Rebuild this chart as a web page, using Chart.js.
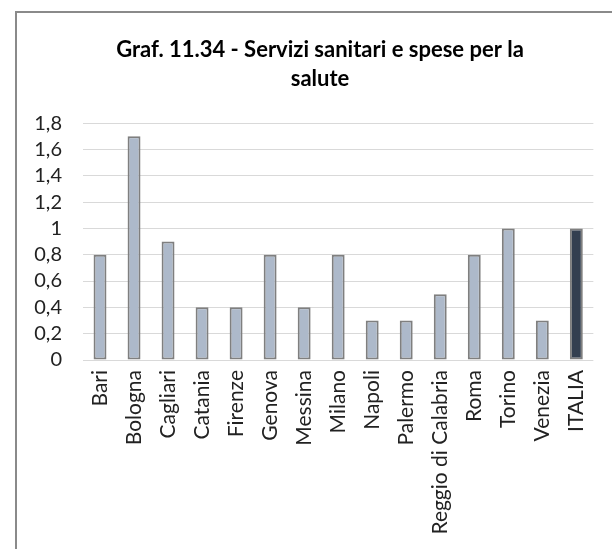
<!DOCTYPE html>
<html>
<head>
<meta charset="utf-8">
<script src="https://cdn.jsdelivr.net/npm/chart.js@4.4.1/dist/chart.umd.min.js"></script>
<style>
  html, body { margin: 0; padding: 0; background: #fff; }
  #wrap { position: relative; width: 612px; height: 549px; overflow: hidden; }
  #frame { position: absolute; left: 15px; top: 11px; width: 700px; height: 700px;
           border-left: 2px solid #8a8a8a; border-top: 2px solid #8a8a8a; box-sizing: border-box; }
  canvas { position: absolute; left: 0; top: 0; }
</style>
</head>
<body>
<div id="wrap">
  <div id="frame"></div>
  <canvas id="c" width="612" height="549"></canvas>
</div>
<script>
const titleLines = ['Graf. 11.34 - Servizi sanitari e spese per la', 'salute'];
const categories = ['Bari', 'Bologna', 'Cagliari', 'Catania', 'Firenze', 'Genova', 'Messina', 'Milano', 'Napoli', 'Palermo', 'Reggio di Calabria', 'Roma', 'Torino', 'Venezia', 'ITALIA'];
const values = [0.8, 1.7, 0.9, 0.4, 0.4, 0.8, 0.4, 0.8, 0.3, 0.3, 0.5, 0.8, 1.0, 0.3, 1.0];
const yTicks = [0, 0.2, 0.4, 0.6, 0.8, 1, 1.2, 1.4, 1.6, 1.8];

const cityColor = '#adb9ca';
const totalColor = '#333f50';
const fills = categories.map(c => c === 'ITALIA' ? totalColor : cityColor);

// shift the title block so it is centred on the (partly cropped) chart frame
const titleShift = {
  id: 'titleShift',
  afterLayout(chart) { if (chart.titleBlock) { chart.titleBlock.left += 42; } }
};

function build() {
  new Chart(document.getElementById('c'), {
    type: 'bar',
    data: {
      labels: categories,
      datasets: [{
        data: values,
        backgroundColor: fills,
        borderColor: '#7f7f7f',
        borderWidth: 2,
        borderSkipped: false,
        categoryPercentage: 1,
        barPercentage: 0.38
      }]
    },
    plugins: [titleShift],
    options: {
      responsive: false,
      animation: false,
      devicePixelRatio: 1,
      layout: { padding: { left: 0, right: 14, top: 0, bottom: 0 }, autoPadding: false },
      plugins: {
        legend: { display: false },
        tooltip: { enabled: false },
        title: {
          display: true,
          text: titleLines,
          color: '#000',
          font: { family: 'Lato', size: 22, weight: 'bold', lineHeight: 1.32 },
          padding: { top: 35.5, bottom: 29.5 }
        }
      },
      scales: {
        x: {
          grid: { display: false, drawTicks: false },
          border: { display: false },
          ticks: {
            color: '#222',
            font: { family: 'Lato', size: 21 },
            minRotation: 90, maxRotation: 90,
            padding: 10,
            autoSkip: false
          },
          afterFit: s => { s.height = 189; }
        },
        y: {
          min: 0, max: 1.8,
          afterBuildTicks: s => { s.ticks = yTicks.map(v => ({ value: v })); },
          grid: { color: '#d9d9d9', lineWidth: 1, drawTicks: false },
          border: { display: false },
          ticks: {
            color: '#222',
            font: { family: 'Lato', size: 20 },
            padding: 21,
            autoSkip: false,
            callback: v => String(Number(v.toFixed(1))).replace('.', ',')
          },
          afterFit: s => { s.width = 83; }
        }
      }
    }
  });
}

Promise.all([
  document.fonts.load('20px Lato'),
  document.fonts.load('bold 22px Lato')
]).then(build, build);
</script>
</body>
</html>
